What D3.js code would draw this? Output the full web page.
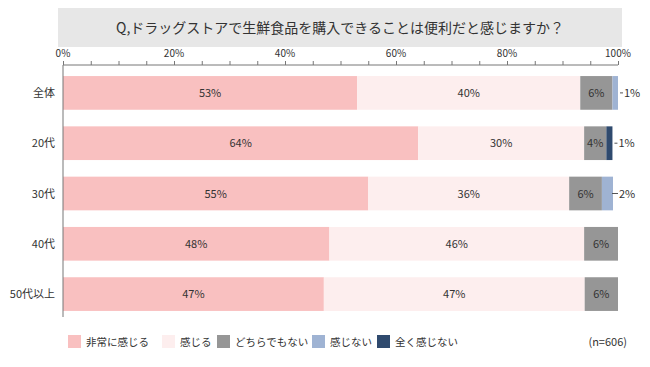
<!DOCTYPE html>
<html><head><meta charset="utf-8">
<script src="https://cdn.jsdelivr.net/npm/d3@7"></script>
<style>body{margin:0;background:#fff}svg{display:block}text{font-family:"Noto Sans CJK JP","Noto Sans",sans-serif;fill:#333}</style>
</head><body><svg id="c" width="650" height="367"></svg>
<script>
const title = "Q,ドラッグストアで生鮮食品を購入できることは便利だと感じますか？";
const categories = ["全体", "20代", "30代", "40代", "50代以上"];
const seriesNames = ["非常に感じる", "感じる", "どちらでもない", "感じない", "全く感じない"];
const veryFeel = [53, 64, 55, 48, 47];
const feel = [40.2, 29.9, 36.2, 45.9, 47];
const neutral = [5.8, 4, 5.9, 6.1, 6];
const notFeel = [1, 0, 2, 0, 0];
const notAtAll = [0, 1.1, 0, 0, 0];
const labelsShown = [["53%","40%","6%","1%",""],["64%","30%","4%","","1%"],["55%","36%","6%","2%",""],["48%","46%","6%","",""],["47%","47%","6%","",""]];
const xTicks = [0, 20, 40, 60, 80, 100];
const colors = ["#f9c0c0", "#fdeeee", "#969696", "#9fb3d3", "#2f4a6e"];
const note = "(n=606)";

const series = [veryFeel, feel, neutral, notFeel, notAtAll];
const svg = d3.select("#c");
const x = d3.scaleLinear().domain([0, 100]).range([63, 618]);
const y = d3.scaleBand().domain(categories).range([67, 320]).paddingInner(0.33).paddingOuter(0.18);

// title box
svg.append("rect").attr("x", 58).attr("y", 8).attr("width", 564).attr("height", 39).attr("fill", "#e7e7e7");
svg.append("text").attr("x", 340).attr("y", 33).attr("text-anchor", "middle").attr("font-size", 14).attr("fill", "#262626").text(title);

// axis
const ax = svg.append("g").attr("transform", "translate(0,65)")
  .call(d3.axisTop(x).tickValues(d3.range(0, 101, 5)).tickSize(4).tickFormat(""));
ax.select(".domain").attr("stroke", "#777").attr("d", `M${x(0)},0H${x(100)}`);
ax.selectAll(".tick line").attr("stroke", "#777");
svg.selectAll(".xl").data(xTicks).join("text").attr("class", "xl")
  .attr("x", d => x(d)).attr("y", 57).attr("text-anchor", "middle").attr("font-size", 10).attr("fill", "#595959")
  .text(d => d + "%");

// bars
const stackData = categories.map((c, i) => {
  let acc = 0;
  return series.map((s, k) => { const r = {cat: c, k, x0: acc, x1: acc + s[i], label: labelsShown[i][k], v: s[i]}; acc += s[i]; return r; });
});
stackData.forEach((row, i) => {
  row.forEach(seg => {
    if (seg.v <= 0) return;
    svg.append("rect").attr("x", x(seg.x0)).attr("y", y(seg.cat)).attr("width", x(seg.x1) - x(seg.x0))
      .attr("height", y.bandwidth()).attr("fill", colors[seg.k]);
  });
  row.forEach(seg => {
    if (!seg.label) return;
    const cy = y(seg.cat) + y.bandwidth() / 2 + 4;
    if (seg.v >= 3) {
      svg.append("text").attr("x", (x(seg.x0) + x(seg.x1)) / 2).attr("y", cy).attr("text-anchor", "middle")
        .attr("font-size", 11).text(seg.label);
    } else {
      const xe = x(seg.x1);
      const lx = xe + 3;
      svg.append("line").attr("x1", lx - (seg.v >= 2 ? 4 : 1)).attr("x2", lx + 2).attr("y1", cy - 4).attr("y2", cy - 4).attr("stroke", "#555");
      svg.append("text").attr("x", lx + 3).attr("y", cy).attr("font-size", 11).text(seg.label);
    }
  });
});
// vertical axis line
svg.append("line").attr("x1", x(0)).attr("x2", x(0)).attr("y1", 65).attr("y2", 317).attr("stroke", "#777");
svg.selectAll(".cl").data(categories).join("text").attr("class", "cl")
  .attr("x", 55).attr("y", d => y(d) + y.bandwidth() / 2 + 4).attr("text-anchor", "end").attr("font-size", 11).text(d => d);

// legend
const legX = [68, 162, 217, 312, 377];
seriesNames.forEach((n, k) => {
  svg.append("rect").attr("x", legX[k]).attr("y", 335).attr("width", 13).attr("height", 13).attr("fill", colors[k]);
  svg.append("text").attr("x", legX[k] + 18).attr("y", 346).attr("font-size", 10.5).text(n);
});
svg.append("text").attr("x", 627).attr("y", 346).attr("text-anchor", "end").attr("font-size", 11).text(note);
</script></body></html>
